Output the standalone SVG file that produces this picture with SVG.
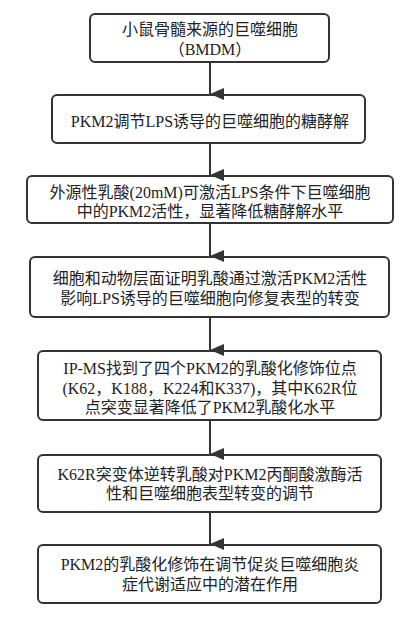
<svg xmlns="http://www.w3.org/2000/svg" width="415" height="624" viewBox="0 0 415 624">
<defs>
<marker id="ah" markerWidth="12" markerHeight="14" refX="6" refY="14" orient="auto-start-reverse" markerUnits="userSpaceOnUse" viewBox="0 0 12 14">
<path d="M0,0 L12,0 L6,14 Z" fill="#333"/>
</marker>
</defs>
<style>
.box{fill:#fff;stroke:#333;stroke-width:2;}
.t{font-family:"Liberation Serif","Noto Sans CJK SC",serif;font-size:16px;fill:#222;text-anchor:middle;}
.c{stroke:#333;stroke-width:2;fill:none;}
</style>
<rect width="415" height="624" fill="#fff"/>
<g id="n1"><rect class="box" x="90" y="14" width="239" height="48" rx="5"/>
<text class="t" x="210" y="35">小鼠骨髓来源的巨噬细胞</text>
<text class="t" x="210" y="55">（BMDM）</text></g>
<g id="n2"><rect class="box" x="52" y="95" width="313" height="48" rx="5"/>
<text class="t" x="210" y="127">PKM2调节LPS诱导的巨噬细胞的糖酵解</text></g>
<g id="n3"><rect class="box" x="27" y="176" width="366" height="47" rx="5"/>
<text class="t" x="210" y="198">外源性乳酸(20mM)可激活LPS条件下巨噬细胞</text>
<text class="t" x="210" y="217">中的PKM2活性，显著降低糖酵解水平</text></g>
<g id="n4"><rect class="box" x="30" y="257" width="359" height="60" rx="5"/>
<text class="t" x="210" y="284">细胞和动物层面证明乳酸通过激活PKM2活性</text>
<text class="t" x="210" y="304">影响LPS诱导的巨噬细胞向修复表型的转变</text></g>
<g id="n5"><rect class="box" x="38" y="351" width="343" height="69" rx="5"/>
<text class="t" x="210" y="374">IP-MS找到了四个PKM2的乳酸化修饰位点</text>
<text class="t" x="210" y="394">(K62，K188，K224和K337)，其中K62R位</text>
<text class="t" x="210" y="413">点突变显著降低了PKM2乳酸化水平</text></g>
<g id="n6"><rect class="box" x="38" y="455" width="343" height="57" rx="5"/>
<text class="t" x="210" y="480">K62R突变体逆转乳酸对PKM2丙酮酸激酶活</text>
<text class="t" x="210" y="499">性和巨噬细胞表型转变的调节</text></g>
<g id="n7"><rect class="box" x="38" y="545" width="343" height="58" rx="5"/>
<text class="t" x="210" y="570">PKM2的乳酸化修饰在调节促炎巨噬细胞炎</text>
<text class="t" x="210" y="590">症代谢适应中的潜在作用</text></g>
<g id="connectors">
<line class="c" x1="210" y1="62" x2="210" y2="94" marker-end="url(#ah)"/>
<line class="c" x1="210" y1="143" x2="210" y2="175" marker-end="url(#ah)"/>
<line class="c" x1="210" y1="223" x2="210" y2="256" marker-end="url(#ah)"/>
<line class="c" x1="210" y1="317" x2="210" y2="350" marker-end="url(#ah)"/>
<line class="c" x1="210" y1="420" x2="210" y2="454" marker-end="url(#ah)"/>
<line class="c" x1="210" y1="512" x2="210" y2="544" marker-end="url(#ah)"/>
</g>
</svg>
